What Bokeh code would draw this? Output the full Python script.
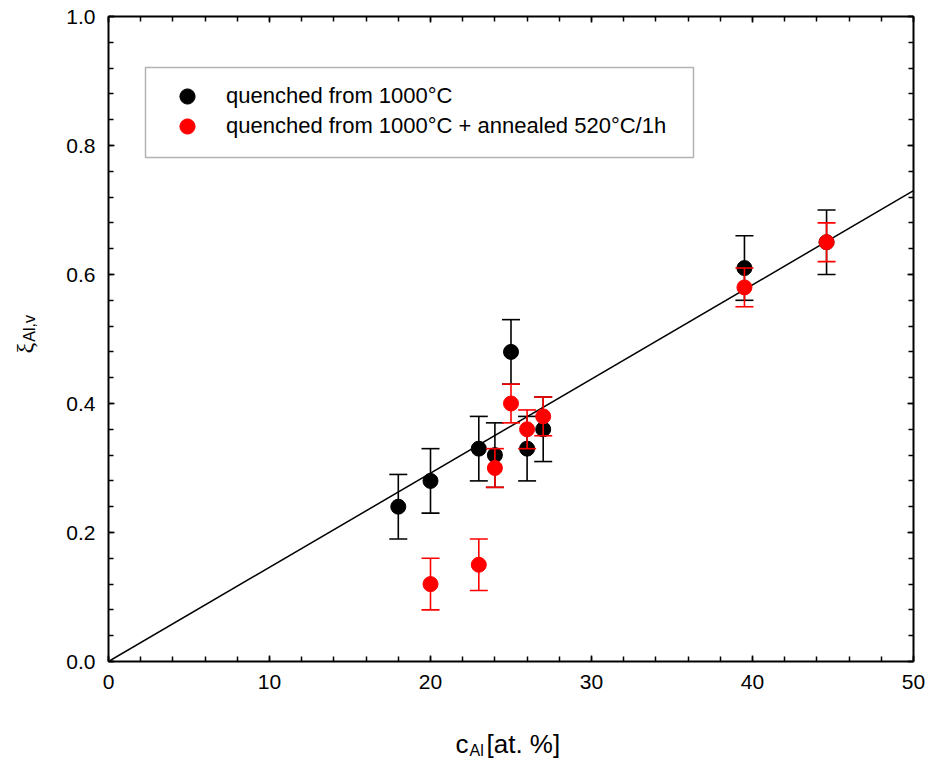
import numpy as np
from bokeh.plotting import figure
from bokeh.layouts import row, column
from bokeh.models import (Range1d, LinearAxis, SingleIntervalTicker, PrintfTickFormatter,
                          CustomJSTickFormatter, Legend, LegendItem, ColumnDataSource,
                          BoxAnnotation)
from bokeh.core.properties import value
from bokeh.embed import file_html
from bokeh.resources import INLINE

# ---- data ----
c_black = [18, 20, 23, 24, 25, 26, 27, 39.5, 44.6]
xi_black = [0.24, 0.28, 0.33, 0.32, 0.48, 0.33, 0.36, 0.61, 0.65]
err_black = [0.05, 0.05, 0.05, 0.05, 0.05, 0.05, 0.05, 0.05, 0.05]

c_red = [20, 23, 24, 25, 26, 27, 39.5, 44.6]
xi_red = [0.12, 0.15, 0.30, 0.40, 0.36, 0.38, 0.58, 0.65]
err_red = [0.04, 0.04, 0.03, 0.03, 0.03, 0.03, 0.03, 0.03]

fit_x = [0, 50]
fit_y = [0.0, 0.73]

label_black = "quenched from 1000°C"
label_red = "quenched from 1000°C + annealed 520°C/1h"

FONT = "Liberation Sans"

YT_W = 40          # width of the y-title strip
MAIN_H = 706       # height of main plot
XT_H = 758 - MAIN_H

p = figure(width=931 - YT_W, height=MAIN_H, output_backend="svg", toolbar_location=None,
           x_range=Range1d(0, 50), y_range=Range1d(0, 1),
           min_border_left=108 - YT_W, min_border_right=18, min_border_top=16,
           min_border_bottom=MAIN_H - 661,
           x_axis_type=None, y_axis_type=None)
p.grid.visible = False
p.outline_line_color = None
p.background_fill_color = "white"
p.border_fill_color = "white"


def make_axis(kind, show_labels):
    if kind == "x":
        ticker = SingleIntervalTicker(interval=10, num_minor_ticks=5)
        fmt = "%d"
    else:
        ticker = SingleIntervalTicker(interval=0.2, num_minor_ticks=5)
        fmt = "%.1f"
    if show_labels:
        formatter = PrintfTickFormatter(format=fmt)
    else:
        formatter = CustomJSTickFormatter(code="return '';")
    ax = LinearAxis(ticker=ticker, formatter=formatter)
    ax.axis_line_color = "black"
    ax.axis_line_width = 2
    ax.major_tick_in = 6
    ax.major_tick_out = 0
    ax.minor_tick_in = 5
    ax.minor_tick_out = 0
    ax.major_tick_line_width = 1.5
    ax.minor_tick_line_width = 1.5
    ax.major_tick_line_color = "black"
    ax.minor_tick_line_color = "black"
    ax.major_label_text_font = FONT
    ax.major_label_text_color = "black"
    ax.major_label_text_font_size = "21px"
    ax.major_label_standoff = 13 if show_labels else 0
    return ax


p.add_layout(make_axis("x", True), "below")
p.add_layout(make_axis("y", True), "left")
p.add_layout(make_axis("x", False), "above")
p.add_layout(make_axis("y", False), "right")

# fit line
p.line(fit_x, fit_y, line_color="black", line_width=1.5)


def draw_series(xs, ys, errs, color):
    lo = [y - e for y, e in zip(ys, errs)]
    hi = [y + e for y, e in zip(ys, errs)]
    src = ColumnDataSource(dict(x=xs, y=ys, lo=lo, hi=hi))
    p.segment(x0="x", y0="lo", x1="x", y1="hi", source=src, line_color=color, line_width=1.6)
    p.scatter(x="x", y="lo", source=src, marker="dash", size=18, line_color=color, line_width=1.6)
    p.scatter(x="x", y="hi", source=src, marker="dash", size=18, line_color=color, line_width=1.6)
    r = p.scatter(x="x", y="y", source=src, marker="circle", size=15,
                  fill_color=color, line_color=color)
    return r


r_black = draw_series(c_black, xi_black, err_black, "black")
r_red = draw_series(c_red, xi_red, err_red, "#ff0000")

# legend frame (frame-relative screen units)
box = BoxAnnotation(left=37, right=585, bottom=504, top=594,
                    left_units="screen", right_units="screen",
                    bottom_units="screen", top_units="screen",
                    fill_color="white", fill_alpha=1, line_color="black", line_width=1.5)
p.add_layout(box)


def legend_row(label, renderer, ybottom):
    lg = Legend(items=[LegendItem(label=label, renderers=[renderer])], location=(48, ybottom))
    lg.margin = 0
    lg.padding = 0
    lg.spacing = 0
    lg.glyph_width = 62
    lg.glyph_height = 38
    lg.label_height = 38
    lg.label_standoff = 8
    lg.label_text_font = FONT
    lg.label_text_font_size = "22px"
    lg.label_text_color = "black"
    lg.border_line_color = None
    lg.background_fill_alpha = 0
    p.add_layout(lg, "center")


legend_row(label_black, r_black, 546)
legend_row(label_red, r_red, 516)


def strip(w, h):
    f = figure(width=w, height=h, output_backend="svg", toolbar_location=None,
               x_range=Range1d(0, w), y_range=Range1d(h, 0),
               min_border=0, x_axis_type=None, y_axis_type=None)
    f.grid.visible = False
    f.outline_line_color = None
    f.background_fill_color = "white"
    f.border_fill_color = "white"
    return f


# x-axis title: c_Al[at. %]  (strip below the plot; y measured from its top)
xt = strip(931, XT_H)
y0 = 743 - MAIN_H
xt.text(x=[455], y=[y0], text=["c"], text_font=value(FONT), text_font_size="26px",
        text_baseline="alphabetic", text_align="left", text_color="black")
xt.text(x=[469], y=[y0 + 7], text=["Al"], text_font=value(FONT), text_font_size="16px",
        text_baseline="alphabetic", text_align="left", text_color="black")
xt.text(x=[486], y=[y0], text=["[at. %]"], text_font=value(FONT), text_font_size="26px",
        text_baseline="alphabetic", text_align="left", text_color="black")

# y-axis title: xi_{Al,v}
yt = strip(YT_W, MAIN_H)
yt.text(x=[24], y=[369], text=["ξ"], text_font=value("Liberation Serif"), text_font_size="24px",
        text_baseline="alphabetic", text_align="left", angle=np.pi / 2, text_color="black")
yt.text(x=[29], y=[356], text=["Al,v"], text_font=value(FONT), text_font_size="16px",
        text_baseline="alphabetic", text_align="left", angle=np.pi / 2, text_color="black")

layout = column(row(yt, p, spacing=0), xt, spacing=0)
open("out.html", "w").write(file_html(layout, INLINE))
